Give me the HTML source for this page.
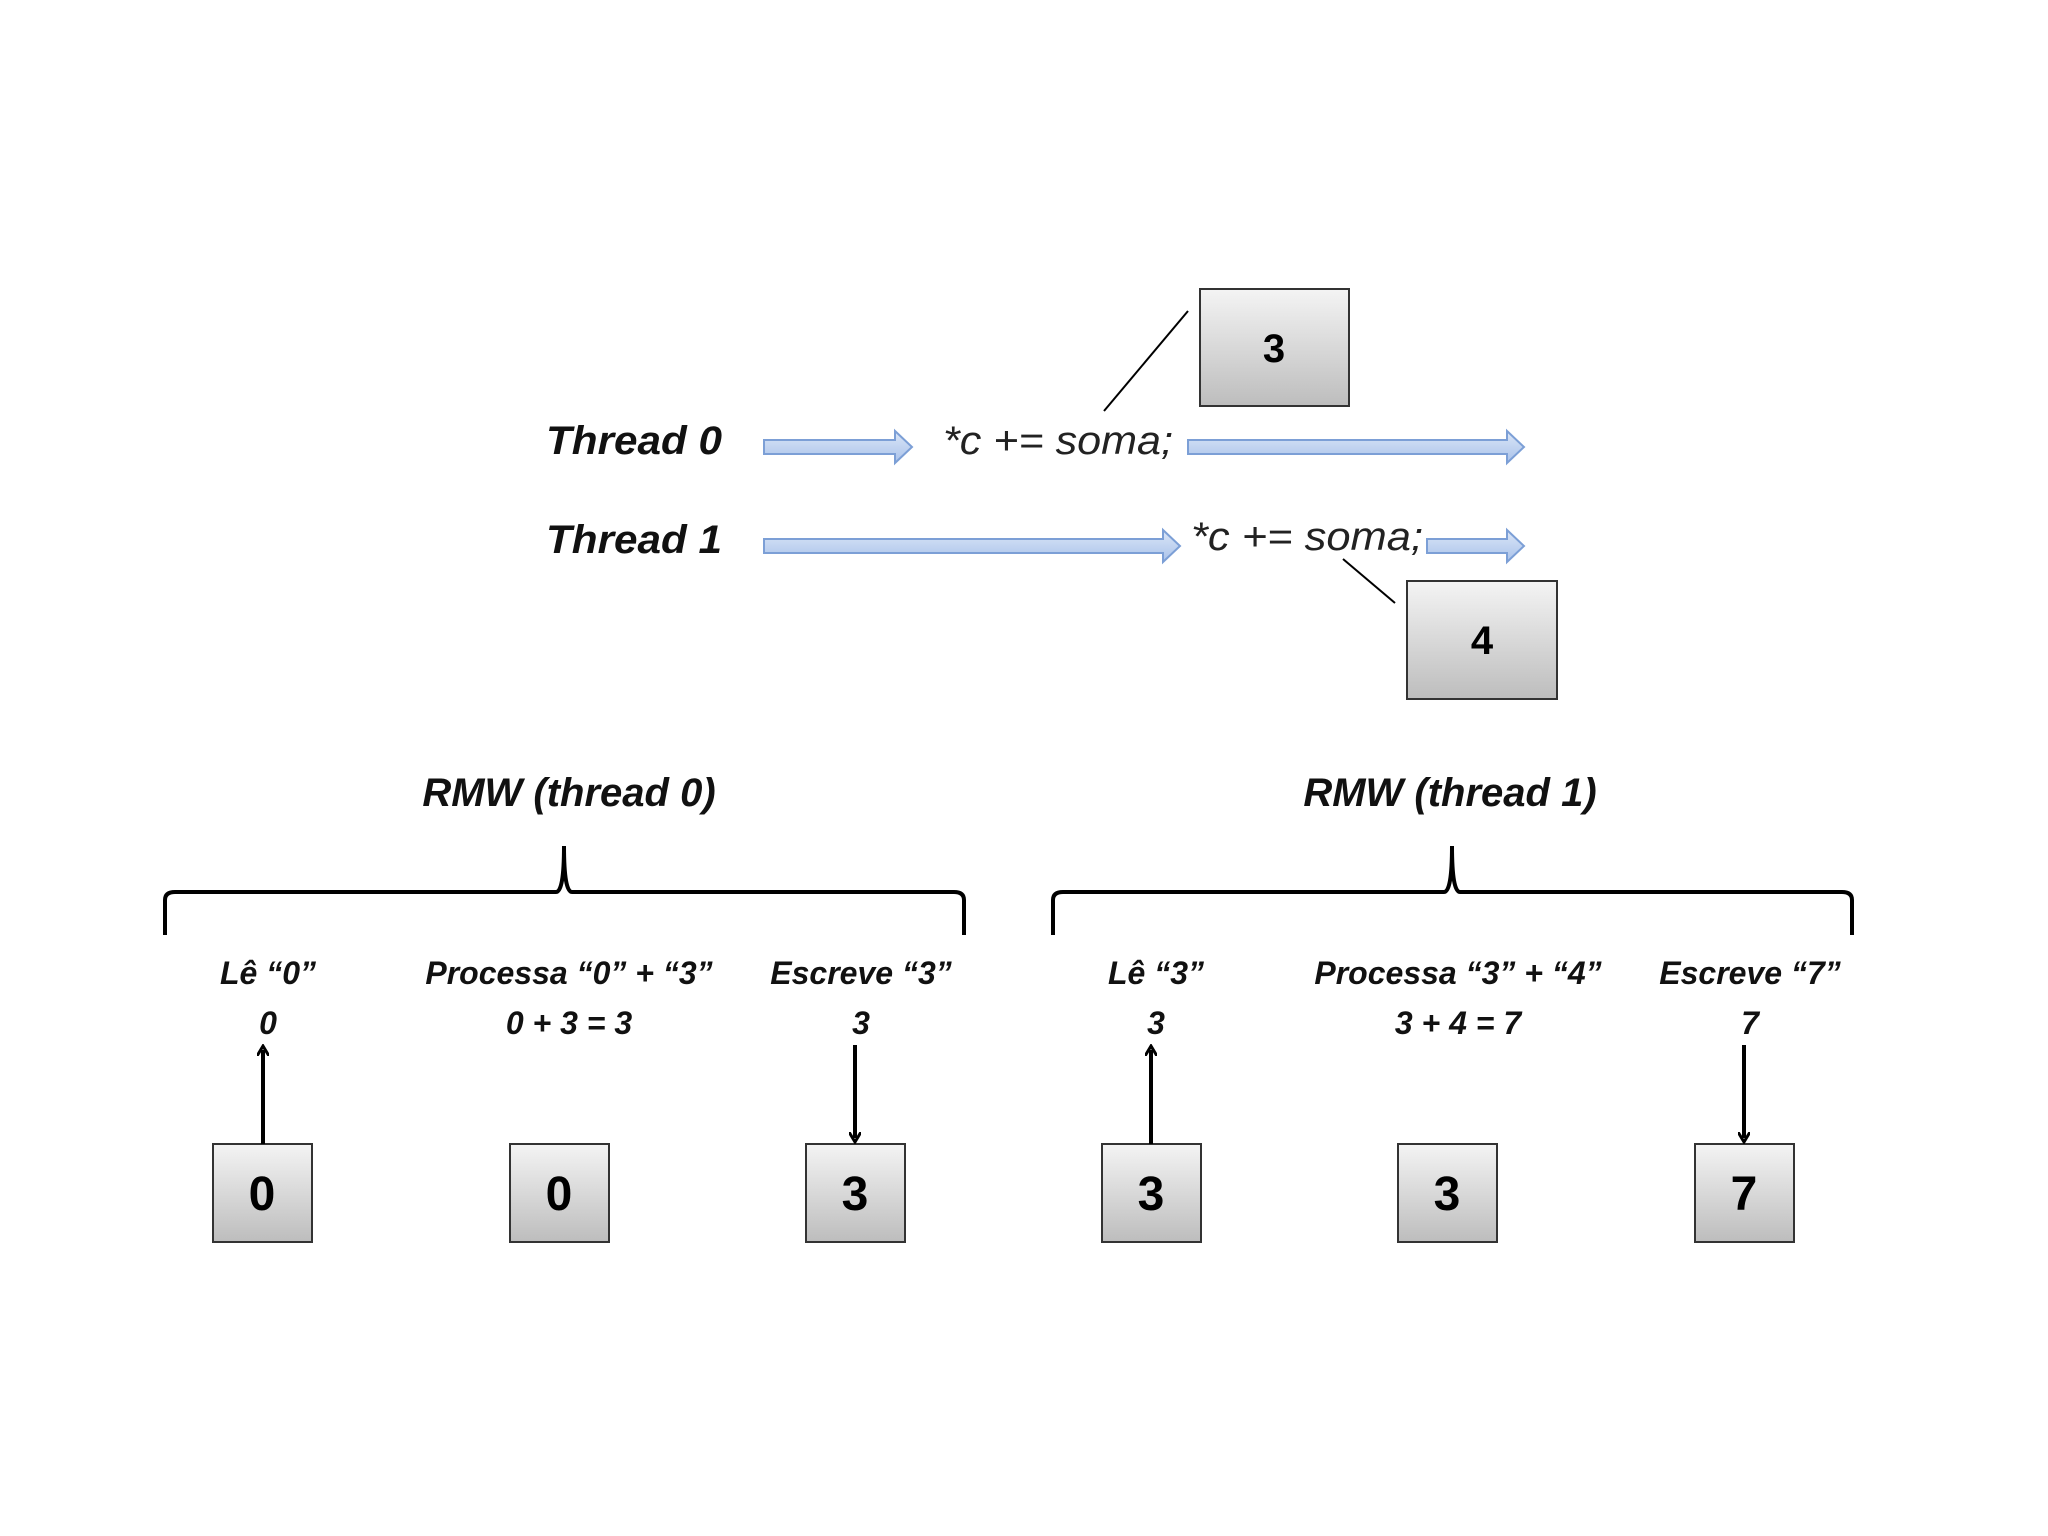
<!DOCTYPE html>
<html><head><meta charset="utf-8"><style>
html,body{margin:0;padding:0;background:#fff;}
svg{display:block}
text{font-family:"Liberation Sans",sans-serif;}
</style></head><body>
<svg width="2048" height="1536" viewBox="0 0 2048 1536" xmlns="http://www.w3.org/2000/svg">
<defs>
<linearGradient id="g" x1="0" y1="0" x2="0" y2="1"><stop offset="0" stop-color="#f4f4f4"/><stop offset="1" stop-color="#bdbdbd"/></linearGradient>
<linearGradient id="b" x1="0" y1="0" x2="0" y2="1"><stop offset="0" stop-color="#dbe6f7"/><stop offset="1" stop-color="#a9c2ea"/></linearGradient>
<marker id="ah" markerWidth="12" markerHeight="12" refX="6" refY="6" orient="auto" markerUnits="userSpaceOnUse"><path d="M0,0 L10,6 L0,12" fill="none" stroke="#000" stroke-width="3"/></marker>
</defs>
<g fill="url(#g)" stroke="#333" stroke-width="2">
<rect x="1200" y="289" width="149" height="117"/>
<rect x="1407" y="581" width="150" height="118"/>
</g>
<g font-weight="bold" font-size="40" text-anchor="middle" fill="#000">
<text x="1274" y="362">3</text>
<text x="1482" y="654">4</text>
</g>
<line x1="1104" y1="411" x2="1188" y2="311" stroke="#000" stroke-width="2"/>
<line x1="1343" y1="559" x2="1395" y2="603" stroke="#000" stroke-width="2"/>
<g fill="url(#b)" stroke="#7c9fd6" stroke-width="2">
<path d="M764,440 H895 V431 L912,447 L895,463 V454 H764 Z"/>
<path d="M1188,440 H1507 V431 L1524,447 L1507,463 V454 H1188 Z"/>
<path d="M764,539 H1163 V530 L1180,546 L1163,562 V553 H764 Z"/>
<path d="M1427,539 H1507 V530 L1524,546 L1507,562 V553 H1427 Z"/>
</g>
<g font-style="italic" font-weight="bold" font-size="40" fill="#111">
<text x="546" y="454" textLength="176" lengthAdjust="spacingAndGlyphs">Thread 0</text>
<text x="546" y="553" textLength="176" lengthAdjust="spacingAndGlyphs">Thread 1</text>
</g>
<g font-style="italic" font-size="40" fill="#222">
<text x="943" y="454" textLength="230" lengthAdjust="spacingAndGlyphs">*c += soma;</text>
<text x="1191" y="550" textLength="232" lengthAdjust="spacingAndGlyphs">*c += soma;</text>
</g>
<g font-style="italic" font-weight="bold" font-size="40" fill="#111" text-anchor="middle">
<text x="569" y="806">RMW (thread 0)</text>
<text x="1450" y="806">RMW (thread 1)</text>
</g>
<g fill="none" stroke="#000" stroke-width="4">
<path d="M165,935 V900 Q165,892 175,892 H556 Q564,892 564,846 Q564,892 572,892 H954 Q964,892 964,900 V935"/>
<path d="M1053,935 V900 Q1053,892 1063,892 H1444 Q1452,892 1452,846 Q1452,892 1460,892 H1842 Q1852,892 1852,900 V935"/>
</g>
<g font-style="italic" font-weight="bold" font-size="32" fill="#111" text-anchor="middle">
<text x="268" y="984">Lê “0”</text>
<text x="569" y="984">Processa “0” + “3”</text>
<text x="861" y="984">Escreve “3”</text>
<text x="1156" y="984">Lê “3”</text>
<text x="1458" y="984">Processa “3” + “4”</text>
<text x="1750" y="984">Escreve “7”</text>
<text x="268" y="1034">0</text>
<text x="569" y="1034">0 + 3 = 3</text>
<text x="861" y="1034">3</text>
<text x="1156" y="1034">3</text>
<text x="1458" y="1034">3 + 4 = 7</text>
<text x="1750" y="1034">7</text>
</g>
<g fill="url(#g)" stroke="#333" stroke-width="2">
<rect x="213" y="1144" width="99" height="98"/>
<rect x="510" y="1144" width="99" height="98"/>
<rect x="806" y="1144" width="99" height="98"/>
<rect x="1102" y="1144" width="99" height="98"/>
<rect x="1398" y="1144" width="99" height="98"/>
<rect x="1695" y="1144" width="99" height="98"/>
</g>
<g font-weight="bold" font-size="48" text-anchor="middle" fill="#000">
<text x="262" y="1210">0</text>
<text x="559" y="1210">0</text>
<text x="855" y="1210">3</text>
<text x="1151" y="1210">3</text>
<text x="1447" y="1210">3</text>
<text x="1744" y="1210">7</text>
</g>
<g stroke="#000" stroke-width="4" marker-end="url(#ah)">
<line x1="263" y1="1144" x2="263" y2="1050"/>
<line x1="1151" y1="1144" x2="1151" y2="1050"/>
<line x1="855" y1="1045" x2="855" y2="1138"/>
<line x1="1744" y1="1045" x2="1744" y2="1138"/>
</g>
</svg>
</body></html>
